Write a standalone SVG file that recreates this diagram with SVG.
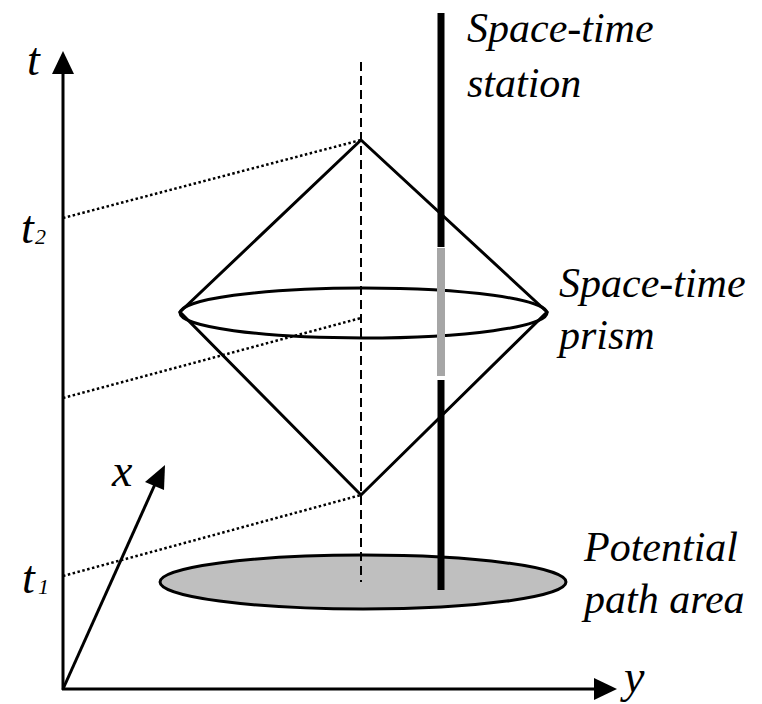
<svg xmlns="http://www.w3.org/2000/svg" width="762" height="704" viewBox="0 0 762 704">
<style>
.ax{stroke:#000;stroke-width:3;fill:none}
.dot{stroke:#000;stroke-width:2.5;stroke-dasharray:2.5,2.5;fill:none}
.sh{stroke:#000;stroke-width:3;fill:none}
.lbl{font-family:"Liberation Serif","Times New Roman",serif;font-style:italic;font-size:42px;fill:#000}
.var{font-size:46px}
.sub{font-size:22px}
</style>
<rect width="762" height="704" fill="#fff"/>
<g id="axes">
<line class="ax" x1="63" y1="690" x2="63" y2="70"/>
<polygon points="63,51 52,74 74,74" fill="#000"/>
<line class="ax" x1="62" y1="689" x2="597" y2="689"/>
<polygon points="617,689 594,678 594,700" fill="#000"/>
<line class="ax" x1="63" y1="689" x2="156" y2="482"/>
<polygon points="165,465 145,482 164,490" fill="#000"/>
</g>
<g id="path-area">
<ellipse cx="363" cy="582" rx="203" ry="27" fill="#bfbfbf" stroke="#000" stroke-width="3"/>
</g>
<g id="connectors">
<line class="dot" x1="63" y1="218" x2="361" y2="140"/>
<line class="dot" x1="63" y1="398" x2="361" y2="318"/>
<line class="dot" x1="63" y1="576" x2="361" y2="495"/>
<line x1="361" y1="62" x2="361" y2="582" stroke="#000" stroke-width="2" stroke-dasharray="9,5"/>
</g>
<g id="prism">
<polygon class="sh" points="361,140 547,312 361,495 180,312" stroke-linejoin="miter"/>
<ellipse class="sh" cx="363.5" cy="313" rx="183.5" ry="25"/>
</g>
<g id="station">
<line x1="441" y1="13" x2="441" y2="247" stroke="#000" stroke-width="7"/>
<line x1="441" y1="248" x2="441" y2="376" stroke="#a6a6a6" stroke-width="8"/>
<line x1="441" y1="380" x2="441" y2="590" stroke="#000" stroke-width="7"/>
</g>
<g id="labels">
<text class="lbl var" x="27" y="75">t</text>
<text class="lbl var" x="21" y="243">t</text>
<text class="lbl sub" x="35" y="244">2</text>
<text class="lbl var" x="22" y="593">t</text>
<text class="lbl sub" x="38" y="594">1</text>
<text class="lbl var" x="112" y="486">x</text>
<text class="lbl var" x="624" y="692">y</text>
<text class="lbl" x="467" y="42">Space-time</text>
<text class="lbl" x="467" y="97">station</text>
<text class="lbl" x="559" y="297">Space-time</text>
<text class="lbl" x="559" y="349">prism</text>
<text class="lbl" x="584" y="561">Potential</text>
<text class="lbl" x="584" y="613">path area</text>
</g>
</svg>
